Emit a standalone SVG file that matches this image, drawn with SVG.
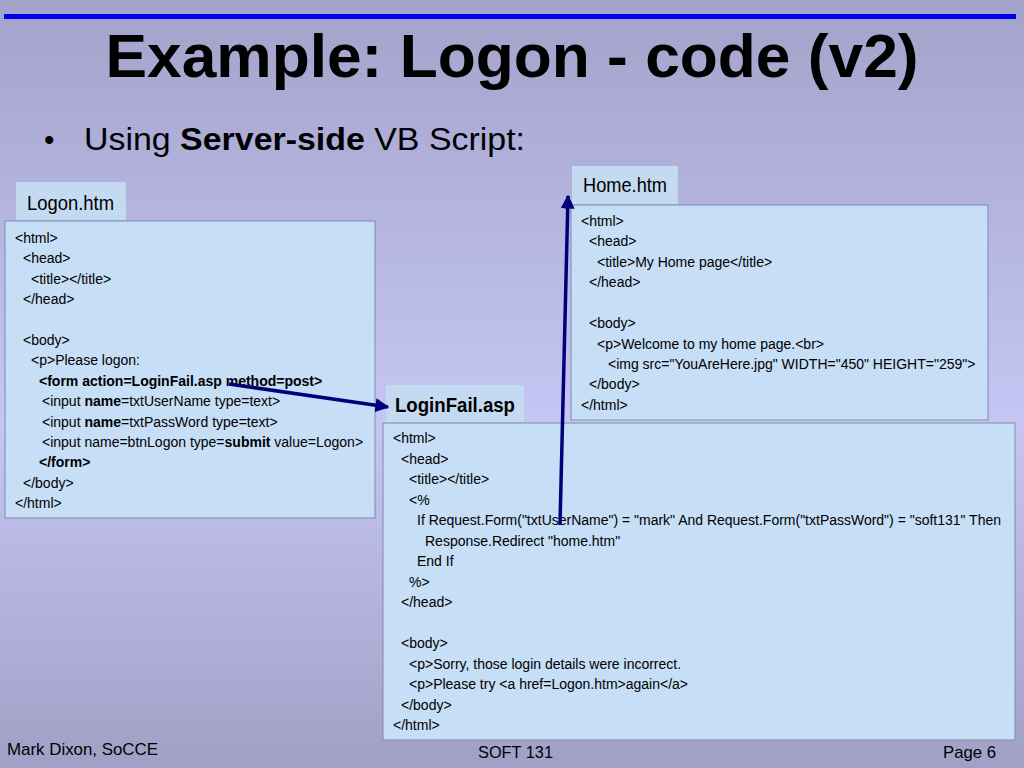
<svg xmlns="http://www.w3.org/2000/svg" width="1024" height="768" viewBox="0 0 1024 768">
<defs>
<linearGradient id="bg" x1="0" y1="0" x2="0" y2="1">
<stop offset="0" stop-color="#A2A2CA"/>
<stop offset="0.55" stop-color="#C6C6F4"/>
<stop offset="1" stop-color="#A0A0C6"/>
</linearGradient>
<marker id="ah" viewBox="0 0 10 10" refX="9" refY="5" markerWidth="4" markerHeight="4" orient="auto" markerUnits="strokeWidth">
<path d="M0,0 L10,5 L0,10 z" fill="#00007A"/>
</marker>
<style>
.t{font-family:"Liberation Sans",Arial,sans-serif;fill:#000}
.c{font-family:"Liberation Sans",Arial,sans-serif;font-size:14px;fill:#000}
.b{font-weight:bold}
.box{fill:#C6DEF6;stroke:#7E8CA8;stroke-width:1}
.lab{fill:#C4DAF0}
.con{stroke:#00007A;stroke-width:3.5;fill:none;marker-end:url(#ah)}
</style>
</defs>
<rect width="1024" height="768" fill="url(#bg)"/>
<rect x="4" y="14" width="1012" height="5" fill="#0000F0"/>
<text class="t b" x="512" y="77" font-size="62" text-anchor="middle" textLength="813" lengthAdjust="spacingAndGlyphs">Example: Logon - code (v2)</text>
<text class="t" x="44" y="150" font-size="30">•</text>
<text class="t" x="84" y="150" font-size="31" textLength="441" lengthAdjust="spacingAndGlyphs">Using <tspan class="b">Server-side</tspan> VB Script:</text>

<g id="logon">
<rect class="lab" x="16" y="182" width="110" height="38"/>
<text class="t" x="27" y="210" font-size="20" textLength="87" lengthAdjust="spacingAndGlyphs">Logon.htm</text>
<rect class="box" x="5" y="221" width="370" height="297"/>
<text class="c" x="15" y="243">&lt;html&gt;</text>
<text class="c" x="23" y="263">&lt;head&gt;</text>
<text class="c" x="31" y="284">&lt;title&gt;&lt;/title&gt;</text>
<text class="c" x="23" y="304">&lt;/head&gt;</text>
<text class="c" x="23" y="345">&lt;body&gt;</text>
<text class="c" x="31" y="365">&lt;p&gt;Please logon:</text>
<text class="c b" x="39" y="386">&lt;form action=LoginFail.asp method=post&gt;</text>
<text class="c" x="42" y="406">&lt;input <tspan class="b">name</tspan>=txtUserName type=text&gt;</text>
<text class="c" x="42" y="427">&lt;input <tspan class="b">name</tspan>=txtPassWord type=text&gt;</text>
<text class="c" x="42" y="447">&lt;input name=btnLogon type=<tspan class="b">submit</tspan> value=Logon&gt;</text>
<text class="c b" x="39" y="467">&lt;/form&gt;</text>
<text class="c" x="23" y="488">&lt;/body&gt;</text>
<text class="c" x="15" y="508">&lt;/html&gt;</text>
</g>

<g id="home">
<rect class="lab" x="572" y="166" width="106" height="38"/>
<text class="t" x="583" y="192" font-size="20" textLength="84" lengthAdjust="spacingAndGlyphs">Home.htm</text>
<rect class="box" x="571" y="205" width="417" height="215"/>
<text class="c" x="581" y="226">&lt;html&gt;</text>
<text class="c" x="589" y="246">&lt;head&gt;</text>
<text class="c" x="597" y="267">&lt;title&gt;My Home page&lt;/title&gt;</text>
<text class="c" x="589" y="287">&lt;/head&gt;</text>
<text class="c" x="589" y="328">&lt;body&gt;</text>
<text class="c" x="597" y="349">&lt;p&gt;Welcome to my home page.&lt;br&gt;</text>
<text class="c" x="608" y="369">&lt;img src="YouAreHere.jpg" WIDTH="450" HEIGHT="259"&gt;</text>
<text class="c" x="589" y="389">&lt;/body&gt;</text>
<text class="c" x="581" y="410">&lt;/html&gt;</text>
</g>

<g id="loginfail">
<rect class="lab" x="386" y="385" width="138" height="37"/>
<text class="t b" x="395" y="412" font-size="20" textLength="120" lengthAdjust="spacingAndGlyphs">LoginFail.asp</text>
<rect class="box" x="383" y="423" width="632" height="317"/>
<text class="c" x="393" y="443">&lt;html&gt;</text>
<text class="c" x="401" y="464">&lt;head&gt;</text>
<text class="c" x="409" y="484">&lt;title&gt;&lt;/title&gt;</text>
<text class="c" x="409" y="505">&lt;%</text>
<text class="c" x="417" y="525" textLength="584" lengthAdjust="spacingAndGlyphs">If Request.Form("txtUserName") = "mark" And Request.Form("txtPassWord") = "soft131" Then</text>
<text class="c" x="425" y="546">Response.Redirect "home.htm"</text>
<text class="c" x="417" y="566">End If</text>
<text class="c" x="409" y="587">%&gt;</text>
<text class="c" x="401" y="607">&lt;/head&gt;</text>
<text class="c" x="401" y="648">&lt;body&gt;</text>
<text class="c" x="409" y="669">&lt;p&gt;Sorry, those login details were incorrect.</text>
<text class="c" x="409" y="689">&lt;p&gt;Please try &lt;a href=Logon.htm&gt;again&lt;/a&gt;</text>
<text class="c" x="401" y="710">&lt;/body&gt;</text>
<text class="c" x="393" y="730">&lt;/html&gt;</text>
</g>

<g id="connectors">
<line class="con" x1="229" y1="384" x2="388" y2="407"/>
<line class="con" x1="560" y1="525" x2="568" y2="196"/>
</g>

<text class="t" x="7" y="755" font-size="17" textLength="151" lengthAdjust="spacingAndGlyphs">Mark Dixon, SoCCE</text>
<text class="t" x="478" y="758" font-size="17" textLength="75" lengthAdjust="spacingAndGlyphs">SOFT 131</text>
<text class="t" x="943" y="758" font-size="17" textLength="53" lengthAdjust="spacingAndGlyphs">Page 6</text>
</svg>
